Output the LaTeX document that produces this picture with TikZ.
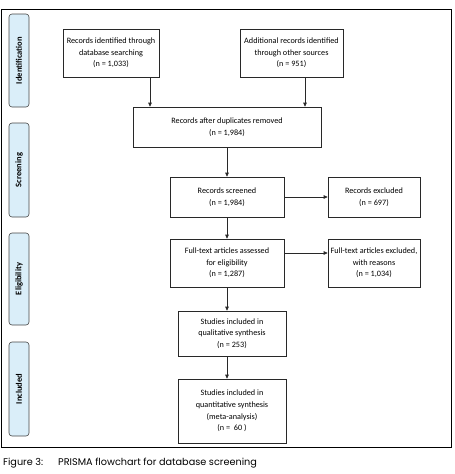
\documentclass[tikz,border=0pt]{standalone}
\usepackage{fontspec}
\setmainfont{Carlito}
\newfontfamily\capfont{Poppins}
\usetikzlibrary{arrows.meta}
\definecolor{sidefill}{RGB}{218,238,249}
\definecolor{sidedraw}{RGB}{70,70,70}
\definecolor{boxdraw}{RGB}{40,40,40}
\tikzset{
  flowbox/.style={draw=boxdraw, line width=0.6pt, fill=white, align=center, inner sep=1pt,
    font=\fontsize{8.2}{11.6}\selectfont},
  sidebox/.style={draw=sidedraw, line width=0.6pt, fill=sidefill, rounded corners=3pt,
    minimum width=20pt, rotate=90, font=\fontsize{8.5}{9}\selectfont\bfseries, inner sep=0pt},
  arr/.style={draw=boxdraw, line width=0.6pt, -{Triangle[length=4pt,width=3.5pt]}},
  captext/.style={anchor=west, inner sep=0pt, font=\capfont\fontsize{9.7}{11}\selectfont}
}
\begin{document}
\begin{tikzpicture}[x=1pt,y=-1pt]
\useasboundingbox (0,0) rectangle (455,474);
\node[draw=black, line width=1pt, minimum width=450pt, minimum height=438pt, inner sep=0pt] (frame) at (226,228) {};
% side labels
\node[sidebox, minimum height=20pt, minimum width=93pt] (sid) at (19,60.5) {Identification};
\node[sidebox, minimum height=20pt, minimum width=94pt] (sscr) at (19,170) {Screening};
\node[sidebox, minimum height=20pt, minimum width=92pt] (selig) at (19,279) {Eligibility};
\node[sidebox, minimum height=20pt, minimum width=94pt] (sinc) at (19,389) {Included};
% boxes
\node[flowbox, minimum width=96pt, minimum height=48pt] (b1) at (111,53) {Records identified through\\database searching\\(n = 1,033)};
\node[flowbox, minimum width=103pt, minimum height=48pt] (b2) at (291.5,53) {Additional records identified\\through other sources\\(n = 951)};
\node[flowbox, minimum width=188pt, minimum height=40pt] (b3) at (227,127) {Records after duplicates removed\\(n = 1,984)};
\node[flowbox, minimum width=114pt, minimum height=40pt] (b4) at (227,197) {Records screened\\(n = 1,984)};
\node[flowbox, minimum width=92pt, minimum height=40pt] (b5) at (374,197) {Records excluded\\(n = 697)};
\node[flowbox, minimum width=114pt, minimum height=48pt] (b6) at (227,263) {Full-text articles assessed\\for eligibility\\(n = 1,287)};
\node[flowbox, minimum width=92pt, minimum height=48pt] (b7) at (374,263) {Full-text articles excluded,\\with reasons\\(n = 1,034)};
\node[flowbox, minimum width=108pt, minimum height=45pt] (b8) at (232,333.5) {Studies included in\\qualitative synthesis\\(n = 253)};
\node[flowbox, minimum width=108pt, minimum height=64pt] (b9) at (232,411) {Studies included in\\quantitative synthesis\\(meta-analysis)\\(n = \ 60 )};
% arrow columns
\coordinate (c1) at (150,0);
\coordinate (c2) at (305,0);
\coordinate (cm) at (227,0);
\coordinate (r6) at (0,253);
\draw[arr] (b1.south -| c1) -- (b3.north -| c1);
\draw[arr] (b2.south -| c2) -- (b3.north -| c2);
\draw[arr] (b3.south -| cm) -- (b4.north -| cm);
\draw[arr] (b4.east) -- (b5.west);
\draw[arr] (b4.south -| cm) -- (b6.north -| cm);
\draw[arr] (b6.east |- r6) -- (b7.west |- r6);
\draw[arr] (b6.south -| cm) -- (b8.north -| cm);
\draw[arr] (b8.south -| cm) -- (b9.north -| cm);
% caption
\node[captext] (capl) at (3,463) {Figure 3:};
\node[captext] (capt) at (58,463) {PRISMA flowchart for database screening};
\end{tikzpicture}
\end{document}
